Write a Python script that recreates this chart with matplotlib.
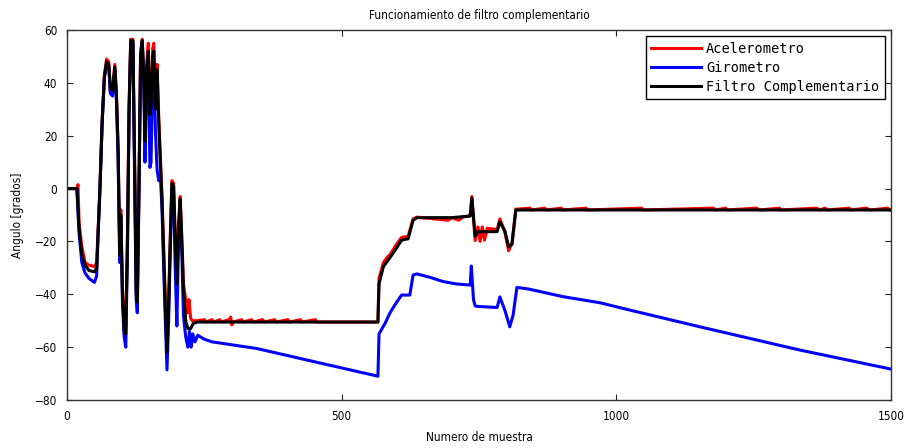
import matplotlib
matplotlib.use("Agg")
import matplotlib.pyplot as plt
from matplotlib.font_manager import FontProperties

# ---------------- data ----------------
filtro_x = [0, 18, 22, 27, 33, 40, 50, 54, 57, 60, 64, 68, 72, 76, 79, 83, 87, 90, 93, 96,
            98, 101, 104, 107, 110, 113, 116, 120, 123, 126, 128, 131, 134, 137, 140, 142,
            145, 148, 151, 153, 156, 158, 161, 164, 167, 170, 173, 176, 179, 182, 185, 188,
            191, 194, 197, 200, 203, 206, 209, 212, 216, 220, 225, 230, 237, 566, 568, 576,
            585, 600, 609, 621, 630, 637, 700, 734, 737, 743, 748, 783, 788, 797, 804, 810,
            817, 1500]
filtro_y = [0, 0, -15, -25, -29, -31, -31.5, -30, -15, 0, 25, 42, 48, 47, 38, 37, 46, 35, 15, -25,
            -10, -40, -54, -55, -20, 30, 56, 56, 10, -40, -43, 0, 50, 56, 40, 18,
            45, 52, 28, 32, 50, 52, 30, 45, 25, 10, -5, -25, -45, -62, -45, -20,
            2, 1, -20, -36, -15, -4, -20, -38, -50, -53, -53, -51, -50.5, -50.5, -36, -29.5,
            -27, -22.5, -19.5, -19, -12, -11, -11, -10.4, -3.6, -18, -16.3, -16.3, -12.5, -16, -22, -21,
            -8.1, -8.1]

acel_x = [0, 18, 20, 22, 27, 33, 40, 50, 54, 57, 60, 64, 68, 72, 76, 79, 83, 87, 90, 93, 96,
          98, 101, 104, 107, 110, 113, 116, 120, 123, 126, 128, 131, 134, 137, 140, 142,
          145, 148, 151, 153, 156, 158, 161, 164, 167, 170, 173, 176, 179, 182, 185, 188,
          191, 194, 197, 200, 203, 206, 209, 212, 216, 219, 222, 225, 228, 232, 237,
          250, 253, 264, 267, 278, 281, 296, 298, 300, 302, 318, 321, 336, 339, 356, 359,
          378, 381, 402, 405, 425, 428, 452, 455,
          566, 568, 576, 583, 588, 600, 609, 621, 630, 637, 694, 700, 713, 720,
          734, 737, 743, 748, 752, 756, 760, 765, 783, 788, 797, 804, 807, 810, 817,
          843, 845, 870, 872, 900, 902, 945, 947, 1046, 1049, 1177, 1180, 1199, 1202,
          1255, 1261, 1297, 1299, 1365, 1370, 1380, 1384, 1424, 1426, 1455, 1462, 1494, 1497, 1500]
acel_y = [0, 0, 1.5, -13, -22, -28, -29, -29.5, -28, -14, 1, 26, 43, 49, 48, 36, 38, 47, 36, 16, -23,
          -8, -38, -50, -52, -18, 32, 56.5, 56.5, 12, -38, -40, 2, 52, 56.5, 42, 20,
          47, 55, 27, 30, 53, 55, 32, 47, 27, 12, -3, -22, -42, -58, -42, -18,
          3, 2, -18, -34, -13, -3, -18, -36, -42, -47, -42, -49, -50, -50, -50,
          -49.6, -50.5, -49.6, -50.5, -49.6, -50.5, -49.5, -48.6, -51.6, -50.5, -49.6, -50.5, -49.6, -50.5, -49.6, -50.5,
          -49.6, -50.5, -49.6, -50.5, -49.6, -50.5, -49.6, -50.5,
          -50.5, -34, -28, -26, -25, -21, -18.5, -18, -11.5, -10.8, -12, -11, -12, -10.8,
          -10.2, -3, -19.7, -14.5, -20, -14.5, -19.5, -15, -15.5, -11.5, -16.5, -23.5, -22, -21, -7.8,
          -7.4, -8.1, -7.4, -8.1, -7.4, -8.1, -7.4, -8.1, -7.4, -8.1, -7.4, -8.1, -7.4, -8.1,
          -7.4, -8.1, -7.4, -8.1, -7.4, -8.1, -7.4, -8.1, -7.4, -8.1, -7.4, -8.1, -7.4, -8.1, -8.1]

giro_x = [0, 18, 22, 27, 33, 40, 50, 54, 57, 60, 64, 68, 72, 76, 79, 83, 87, 90, 93, 96,
          98, 101, 104, 107, 110, 113, 116, 120, 123, 126, 128, 131, 134, 137, 140, 142,
          145, 148, 151, 153, 156, 158, 161, 164, 167, 170, 173, 176, 179, 182, 185, 188,
          191, 194, 197, 200, 203, 206, 209, 212, 216, 220, 223, 226, 229, 233, 238, 250,
          264, 345, 450, 566, 568, 579, 588, 600, 609, 624, 630, 637, 661, 685, 709, 734,
          736, 740, 743, 748, 783, 788, 797, 806, 812, 819, 840, 903, 970, 1025, 1152,
          1334, 1500]
giro_y = [0, 0, -17, -28, -32, -34, -35.5, -33, -15, 0, 25, 42, 47, 46, 36, 35, 45, 33, 12, -28,
          -13, -43, -56, -60, -25, 28, 55, 55, 6, -42, -47, -2, 48, 55, 38, 10,
          40, 48, 8, 10, 45, 48, 22, 7, 3, 5, -8, -30, -50, -68.6, -50, -24,
          0, -2, -30, -52, -20, -8, -24, -48, -56, -60, -54, -60, -55, -58, -55.5, -57,
          -58, -60.5, -65.5, -71, -55, -51, -47, -43, -40.3, -40.3, -32.7, -32.3, -33.6, -35.2, -36.1, -36.5,
          -29.3, -42, -44.4, -44.6, -45, -41, -46, -52.3, -48, -37.4, -38, -40.9, -43.2, -46, -52.3,
          -61.1, -68.3]

x_ticks = [0, 500, 1000, 1500]
y_ticks = [-80, -60, -40, -20, 0, 20, 40, 60]
labels = ["Acelerometro", "Girometro", "Filtro Complementario"]

# ---------------- figure ----------------
def narrow(size):
    return FontProperties(family=["DejaVu Sans"], stretch="condensed", size=size)

mono = ["DejaVu Sans Mono", "DejaVu Sans"]

fig = plt.figure(figsize=(9.09, 4.48), dpi=100)
ax = fig.add_axes([67 / 909, 1 - 400 / 448, (891 - 67) / 909, (400 - 30) / 448])

lw = 2.2
ax.plot(acel_x, acel_y, color="#ff0000", lw=lw, label=labels[0])
ax.plot(giro_x, giro_y, color="#0000ff", lw=lw, label=labels[1])
ax.plot(filtro_x, filtro_y, color="#000000", lw=lw, label=labels[2])

ax.set_xlim(0, 1500)
ax.set_ylim(-80, 60)
ax.set_xticks(x_ticks)
ax.set_yticks(y_ticks)
ax.tick_params(direction="in", top=True, right=True, length=4, width=0.8,
               colors="#222222", labelcolor="black", pad=7)
for lab in ax.get_xticklabels() + ax.get_yticklabels():
    lab.set_fontproperties(narrow(8.5))
for s in ax.spines.values():
    s.set_linewidth(1.0)
    s.set_color("#333333")

ax.set_title("Funcionamiento de filtro complementario", fontproperties=narrow(8.5), pad=8)
ax.set_xlabel("Numero de muestra", fontproperties=narrow(8.5), labelpad=6)
ax.set_ylabel("Angulo [grados]", fontproperties=narrow(8.5), labelpad=8)

leg = ax.legend(loc="upper right", prop={"family": mono, "size": 9.8},
                frameon=True, fancybox=False, framealpha=1, edgecolor="black",
                borderaxespad=0.45, handlelength=3.7, handletextpad=0.35,
                labelspacing=0.38, borderpad=0.4)
leg.get_frame().set_linewidth(1.0)

fig.savefig("out.png", dpi=100)
